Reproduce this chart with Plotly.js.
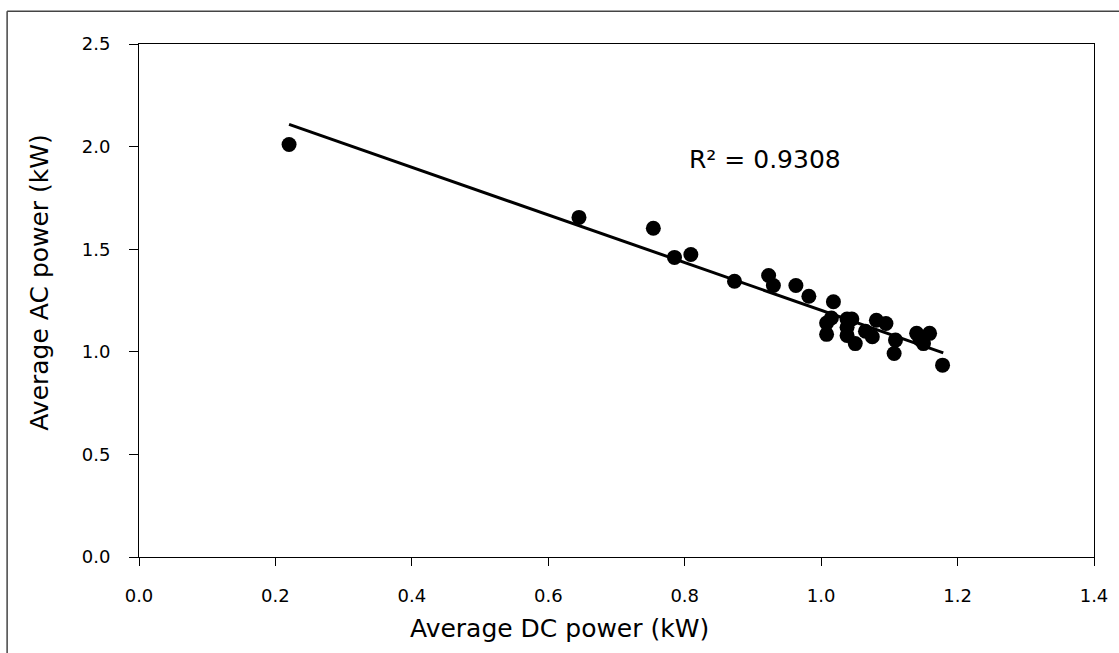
<!DOCTYPE html>
<html>
<head>
<meta charset="utf-8">
<script src="https://cdn.plot.ly/plotly-3.0.1.min.js"></script>
<style>
html,body{margin:0;padding:0;background:#fff;}
#chart{width:1119px;height:653px;}
</style>
</head>
<body>
<div id="chart"></div>
<script>
// Average DC power (kW)
const dcPower = [0.22, 0.645, 0.754, 0.785, 0.809, 0.873, 0.923, 0.930, 0.963, 0.982,
  1.018, 1.015, 1.008, 1.008, 1.038, 1.045, 1.038, 1.038, 1.050, 1.065,
  1.075, 1.081, 1.095, 1.107, 1.109, 1.140, 1.145, 1.150, 1.159, 1.178];
// Average AC power (kW)
const acPower = [2.01, 1.655, 1.602, 1.46, 1.474, 1.344, 1.372, 1.323, 1.323, 1.271,
  1.244, 1.165, 1.14, 1.085, 1.16, 1.16, 1.12, 1.08, 1.04, 1.10,
  1.073, 1.154, 1.138, 0.992, 1.057, 1.09, 1.06, 1.04, 1.09, 0.935];
// Linear trendline end points
const trendX = [0.22, 1.179];
const trendY = [2.108, 0.995];
const rSquaredLabel = "R² = 0.9308";
const xTicks = [0, 0.2, 0.4, 0.6, 0.8, 1.0, 1.2, 1.4];
const yTicks = [0, 0.5, 1.0, 1.5, 2.0, 2.5];

const FONT = "DejaVu Sans, Verdana, sans-serif";

const traces = [
  {x: dcPower, y: acPower, type: "scatter", mode: "markers",
   marker: {color: "#000", size: 15}, showlegend: false, hoverinfo: "x+y"},
  {x: trendX, y: trendY, type: "scatter", mode: "lines",
   line: {color: "#000", width: 3}, showlegend: false}
];

const L = 139.3, R = 25.3, T = 43.7, B = 96;
const W = 1119 - L - R, H = 653 - T - B;
const px = v => (v - L) / W;
const py = v => (653 - B - v) / H;

const layout = {
  width: 1119, height: 653,
  margin: {l: L, r: R, t: T, b: B, pad: 0},
  paper_bgcolor: "#fff", plot_bgcolor: "#fff",
  font: {family: FONT, size: 18, color: "#000"},
  xaxis: {range: [0, 1.4], tickvals: xTicks, ticktext: xTicks.map(v => v.toFixed(1)),
    showgrid: false, zeroline: false, showline: true, linecolor: "#000", linewidth: 1,
    mirror: true, ticks: "outside", ticklen: 8, tickcolor: "#000", ticklabelstandoff: 14,
    tickfont: {family: FONT, size: 18, color: "#000"}},
  yaxis: {range: [0, 2.5], tickvals: yTicks, ticktext: yTicks.map(v => v.toFixed(1)),
    showgrid: false, zeroline: false, showline: true, linecolor: "#000", linewidth: 1,
    mirror: true, ticks: "outside", ticklen: 9, tickcolor: "#000", ticklabelstandoff: 15,
    tickfont: {family: FONT, size: 18, color: "#000"}},
  annotations: [
    {text: rSquaredLabel, x: 0.918, y: 1.935, xref: "x", yref: "y", showarrow: false,
     xanchor: "center", yanchor: "middle", font: {family: FONT, size: 25, color: "#000"}},
    {text: "Average DC power (kW)", x: px(560), y: py(629), xref: "paper", yref: "paper",
     showarrow: false, xanchor: "center", yanchor: "middle",
     font: {family: FONT, size: 25, color: "#000"}},
    {text: "Average AC power (kW)", x: px(40), y: py(282), xref: "paper", yref: "paper",
     showarrow: false, textangle: -90, xanchor: "center", yanchor: "middle",
     font: {family: FONT, size: 25, color: "#000"}}
  ],
  shapes: [
    {type: "line", xref: "paper", yref: "paper", x0: px(7.5), x1: px(7.5), y0: py(660), y1: py(11),
     line: {color: "#444", width: 1.5}},
    {type: "line", xref: "paper", yref: "paper", x0: px(7.5), x1: px(1125), y0: py(11), y1: py(11),
     line: {color: "#444", width: 1.5}}
  ]
};

Plotly.newPlot("chart", traces, layout, {displayModeBar: false, staticPlot: true});
</script>
</body>
</html>
